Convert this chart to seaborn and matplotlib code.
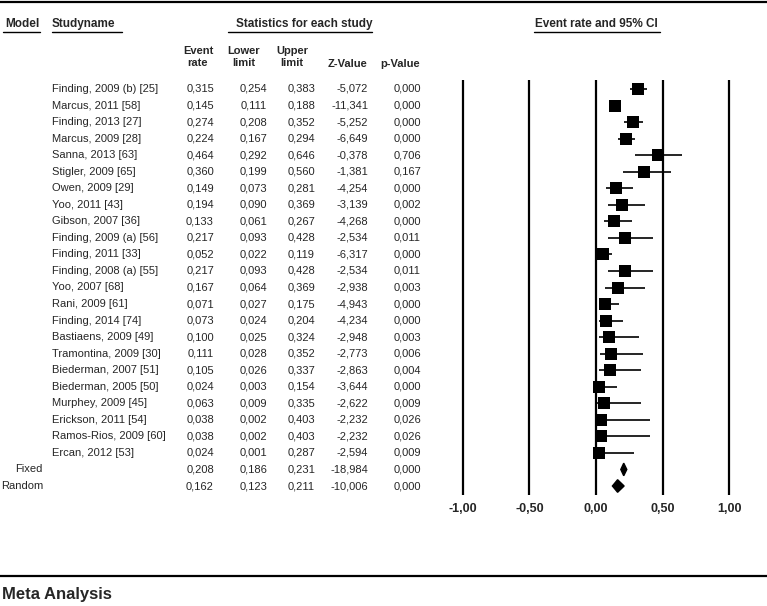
import numpy as np
import pandas as pd
import matplotlib.pyplot as plt
from matplotlib.lines import Line2D
import seaborn as sns

studies = ["Finding, 2009 (b) [25]", "Marcus, 2011 [58]", "Finding, 2013 [27]",
           "Marcus, 2009 [28]", "Sanna, 2013 [63]", "Stigler, 2009 [65]",
           "Owen, 2009 [29]", "Yoo, 2011 [43]", "Gibson, 2007 [36]",
           "Finding, 2009 (a) [56]", "Finding, 2011 [33]", "Finding, 2008 (a) [55]",
           "Yoo, 2007 [68]", "Rani, 2009 [61]", "Finding, 2014 [74]",
           "Bastiaens, 2009 [49]", "Tramontina, 2009 [30]", "Biederman, 2007 [51]",
           "Biederman, 2005 [50]", "Murphey, 2009 [45]", "Erickson, 2011 [54]",
           "Ramos-Rios, 2009 [60]", "Ercan, 2012 [53]"]
rate = [0.315, 0.145, 0.274, 0.224, 0.464, 0.360, 0.149, 0.194, 0.133, 0.217, 0.052,
        0.217, 0.167, 0.071, 0.073, 0.100, 0.111, 0.105, 0.024, 0.063, 0.038, 0.038, 0.024]
lower = [0.254, 0.111, 0.208, 0.167, 0.292, 0.199, 0.073, 0.090, 0.061, 0.093, 0.022,
         0.093, 0.064, 0.027, 0.024, 0.025, 0.028, 0.026, 0.003, 0.009, 0.002, 0.002, 0.001]
upper = [0.383, 0.188, 0.352, 0.294, 0.646, 0.560, 0.281, 0.369, 0.267, 0.428, 0.119,
         0.428, 0.369, 0.175, 0.204, 0.324, 0.352, 0.337, 0.154, 0.335, 0.403, 0.403, 0.287]
zval = [-5.072, -11.341, -5.252, -6.649, -0.378, -1.381, -4.254, -3.139, -4.268, -2.534,
        -6.317, -2.534, -2.938, -4.943, -4.234, -2.948, -2.773, -2.863, -3.644, -2.622,
        -2.232, -2.232, -2.594]
pval = [0.000, 0.000, 0.000, 0.000, 0.706, 0.167, 0.000, 0.002, 0.000, 0.011, 0.000,
        0.011, 0.003, 0.000, 0.000, 0.003, 0.006, 0.004, 0.000, 0.009, 0.026, 0.026, 0.009]

models = ["Fixed", "Random"]
m_rate = [0.208, 0.162]
m_lower = [0.186, 0.123]
m_upper = [0.231, 0.211]
m_z = [-18.984, -10.006]
m_p = [0.000, 0.000]

ticks = [-1.0, -0.5, 0.0, 0.5, 1.0]

sns.set_style("white")
plt.rcParams['font.family'] = ['Liberation Sans', 'DejaVu Sans']

W, H = 767, 606
fig = plt.figure(figsize=(W / 100, H / 100), dpi=100)


def fx(x):
    return x / W


def fy(y):
    return 1 - y / H


def comma(v):
    return f"{v:.3f}".replace(".", ",")


n = len(studies) + len(models)
ylim = (n - 1 + 0.544, -0.544)
top_px, bot_px = 80, 495

# forest plot
ax = fig.add_axes([fx(436), fy(bot_px), fx(320), (bot_px - top_px) / H])
df = pd.DataFrame({"rate": rate, "lower": lower, "upper": upper,
                   "row": np.arange(len(studies))})
for t in ticks:
    ax.axvline(t, color="black", lw=1.6, zorder=1)
ax.hlines(df["row"], df["lower"], df["upper"], color="black", lw=1.2, zorder=2)
sns.scatterplot(data=df, x="rate", y="row", marker="s", s=85, color="black",
                edgecolor="black", linewidth=0, ax=ax, zorder=3)
h = 0.38
for i in range(len(models)):
    r = len(studies) + i
    ax.fill([m_lower[i], m_rate[i], m_upper[i], m_rate[i]],
            [r, r - h, r, r + h], color="black", zorder=3)
ax.set_xlim(-1.2, 1.2)
ax.set_ylim(*ylim)
ax.set_xticks(ticks)
ax.set_xticklabels([f"{t:.2f}".replace(".", ",") for t in ticks],
                   fontsize=9, fontweight="bold")
ax.tick_params(axis="x", length=0, pad=6)
ax.set_yticks([])
ax.set_xlabel("")
ax.set_ylabel("")
for s in ax.spines.values():
    s.set_visible(False)

# table
tab = fig.add_axes([0, fy(bot_px), fx(436), (bot_px - top_px) / H])
tab.set_xlim(0, 436)
tab.set_ylim(*ylim)
tab.axis("off")
cols = [214, 267, 315, 368, 421]
for i, name in enumerate(studies):
    tab.text(52, i, name, fontsize=8, va="center", ha="left")
    vals = [comma(rate[i]), comma(lower[i]), comma(upper[i]), comma(zval[i]), comma(pval[i])]
    for cx, v in zip(cols, vals):
        tab.text(cx, i, v, fontsize=8, va="center", ha="right")
for j, m in enumerate(models):
    r = len(studies) + j
    tab.text(43, r, m, fontsize=8, va="center", ha="right")
    vals = [comma(m_rate[j]), comma(m_lower[j]), comma(m_upper[j]), comma(m_z[j]), comma(m_p[j])]
    for cx, v in zip(cols, vals):
        tab.text(cx, r, v, fontsize=8, va="center", ha="right")

# headers
hdr = dict(fontsize=8.5, fontweight="bold", va="center")
fig.text(fx(5), fy(24), "Model", ha="left", **hdr)
fig.text(fx(52), fy(24), "Studyname", ha="left", **hdr)
fig.text(fx(304), fy(24), "Statistics for each study", ha="center", **hdr)
fig.text(fx(596), fy(24), "Event rate and 95% CI", ha="center", **hdr)
col_hdr = [("Event\nrate", 198), ("Lower\nlimit", 244), ("Upper\nlimit", 292),
           ("Z-Value", 348), ("p-Value", 400)]
for txt, cx in col_hdr:
    ty = fy(57) if "\n" in txt else fy(64)
    fig.text(fx(cx), ty, txt, ha="center", va="center", fontsize=8,
             fontweight="bold", linespacing=1.15)

for x0, x1 in [(3, 40), (52, 122), (228, 372), (534, 660)]:
    fig.add_artist(Line2D([fx(x0), fx(x1)], [fy(32), fy(32)], color="black", lw=1.0))

fig.add_artist(Line2D([0, 1], [fy(2), fy(2)], color="black", lw=1.6))
fig.add_artist(Line2D([0, 1], [fy(576), fy(576)], color="black", lw=1.6))
fig.text(fx(2), fy(594), "Meta Analysis", fontsize=12, fontweight="bold",
         ha="left", va="center")

fig.savefig("out.png", dpi=100)
